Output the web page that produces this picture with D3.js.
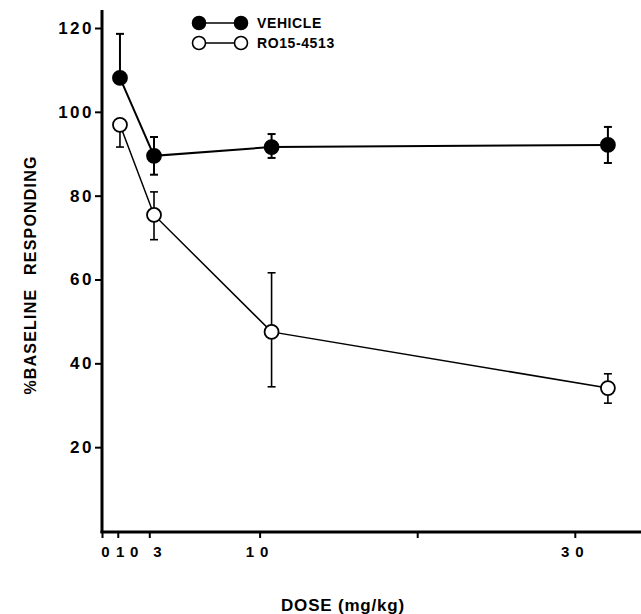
<!DOCTYPE html>
<html>
<head>
<meta charset="utf-8">
<script src="https://cdn.jsdelivr.net/npm/d3@7"></script>
<style>
  body { margin: 0; background: #fff; }
  text { font-family: "Liberation Sans", Arial, sans-serif; font-weight: bold; fill: #000; }
</style>
</head>
<body>
<script>
// values
const series = ["VEHICLE", "RO15-4513"];
const dose = [1.14, 3.3, 10.76, 32.1];           // plotted x positions (mg/kg)
const vehicleMean = [108.1, 89.5, 91.6, 92.1];
const vehicleHi   = [118.6, 94.0, 94.7, 96.4];
const vehicleLo   = [108.1, 85.0, 89.0, 87.8];
const roMean = [96.9, 75.4, 47.5, 34.1];
const roHi   = [96.9, 80.9, 61.6, 37.5];
const roLo   = [91.6, 69.5, 34.4, 30.5];
const xTicks = [0, 1, 3, 10, 20, 30];
const xTickLabels = ["0", "1", "0\u20033", "10", "", "30"];
const yTicks = [20, 40, 60, 80, 100, 120];

const width = 641, height = 614;

const svg = d3.select("body").append("svg")
    .attr("width", width)
    .attr("height", height);

const xScale = d3.scaleLinear().domain([0, 34.2]).range([102, 641]);
const yScale = d3.scaleLinear().domain([0, 120]).range([531, 28]);

// axes
const yAxis = svg.append("g")
    .attr("transform", "translate(102,0)")
    .call(d3.axisLeft(yScale).tickValues(yTicks).tickSize(7).tickPadding(1).tickSizeOuter(0));
yAxis.select(".domain").remove();
yAxis.selectAll(".tick line").attr("stroke-width", 2);
yAxis.selectAll(".tick text").style("font-size", "17px").style("letter-spacing", "2.5px").attr("fill", "#000");

const xAxis = svg.append("g")
    .attr("transform", "translate(0,532)")
    .call(d3.axisBottom(xScale).tickValues(xTicks)
        .tickFormat((d, i) => xTickLabels[i]).tickSize(6).tickPadding(8).tickSizeOuter(0));
xAxis.select(".domain").remove();
xAxis.selectAll(".tick line").attr("stroke-width", 2);
xAxis.selectAll(".tick text").style("font-size", "15px").style("letter-spacing", "6px").attr("fill", "#000");
// the crowded low-dose labels sit without extra spacing
xAxis.selectAll(".tick text").filter((d, i) => i < 3)
    .style("letter-spacing", "0px")
    .attr("dx", (d, i) => [3, 2, -4][i]);

svg.append("line").attr("x1", 102).attr("x2", 102).attr("y1", 10).attr("y2", 533)
    .attr("stroke", "#000").attr("stroke-width", 3);
svg.append("line").attr("x1", 100.5).attr("x2", 641).attr("y1", 532).attr("y2", 532)
    .attr("stroke", "#000").attr("stroke-width", 3);

// axis titles
svg.append("text")
    .attr("transform", "translate(36,275) rotate(-90)")
    .attr("text-anchor", "middle")
    .style("font-size", "16px")
    .style("letter-spacing", "1.2px")
    .style("word-spacing", "8px")
    .text("%BASELINE RESPONDING");

svg.append("text")
    .attr("x", 343).attr("y", 611)
    .attr("text-anchor", "middle")
    .style("font-size", "17px")
    .style("letter-spacing", "0.8px")
    .text("DOSE (mg/kg)");

// series
const groups = [
  { name: series[0], mean: vehicleMean, hi: vehicleHi, lo: vehicleLo, fill: "#000", lw: 2, ew: 2 },
  { name: series[1], mean: roMean, hi: roHi, lo: roLo, fill: "#fff", lw: 1.5, ew: 1.6 }
];

const line = d3.line().x(d => xScale(d.x)).y(d => yScale(d.y));

groups.forEach(g => {
  const pts = dose.map((x, i) => ({ x: x, y: g.mean[i], hi: g.hi[i], lo: g.lo[i] }));

  svg.append("path")
    .datum(pts)
    .attr("d", line)
    .attr("fill", "none")
    .attr("stroke", "#000")
    .attr("stroke-width", g.lw);

  const eb = svg.append("g").selectAll("g")
    .data(pts)
    .enter().append("g");

  eb.append("line")
    .attr("x1", d => xScale(d.x)).attr("x2", d => xScale(d.x))
    .attr("y1", d => yScale(d.hi)).attr("y2", d => yScale(d.lo))
    .attr("stroke", "#000").attr("stroke-width", g.ew);
  eb.filter(d => d.hi > d.y).append("line")
    .attr("x1", d => xScale(d.x) - 4).attr("x2", d => xScale(d.x) + 4)
    .attr("y1", d => yScale(d.hi)).attr("y2", d => yScale(d.hi))
    .attr("stroke", "#000").attr("stroke-width", g.ew);
  eb.filter(d => d.lo < d.y).append("line")
    .attr("x1", d => xScale(d.x) - 4).attr("x2", d => xScale(d.x) + 4)
    .attr("y1", d => yScale(d.lo)).attr("y2", d => yScale(d.lo))
    .attr("stroke", "#000").attr("stroke-width", g.ew);

  svg.append("g").selectAll("circle")
    .data(pts)
    .enter().append("circle")
    .attr("cx", d => xScale(d.x))
    .attr("cy", d => yScale(d.y))
    .attr("r", 7)
    .attr("fill", g.fill)
    .attr("stroke", "#000")
    .attr("stroke-width", 1.8);
});

// legend
const legend = svg.selectAll(".legend")
  .data(groups)
  .enter().append("g")
  .attr("class", "legend")
  .attr("transform", (d, i) => "translate(0," + (23 + i * 20) + ")");

legend.append("line")
  .attr("x1", 199).attr("x2", 241)
  .attr("stroke", "#000").attr("stroke-width", 1.5);
legend.append("circle").attr("cx", 199).attr("r", 6.5)
  .attr("fill", d => d.fill).attr("stroke", "#000").attr("stroke-width", 1.6);
legend.append("circle").attr("cx", 241).attr("r", 6.5)
  .attr("fill", d => d.fill).attr("stroke", "#000").attr("stroke-width", 1.6);
legend.append("text")
  .attr("x", 257).attr("y", 5)
  .style("font-size", "14px")
  .style("letter-spacing", "0.6px")
  .text(d => d.name);
</script>
</body>
</html>
